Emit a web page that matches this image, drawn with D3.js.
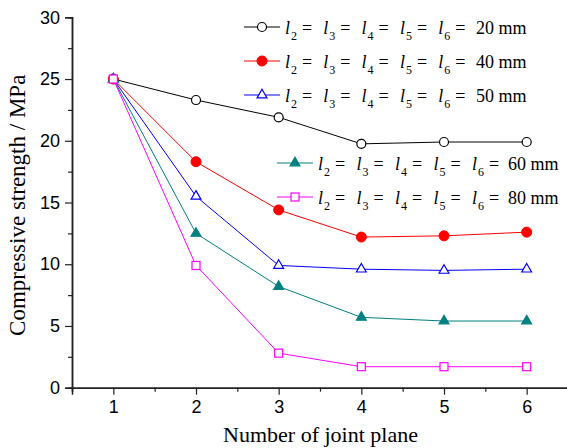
<!DOCTYPE html>
<html>
<head>
<meta charset="utf-8">
<script src="https://cdn.jsdelivr.net/npm/d3@7/dist/d3.min.js"></script>
<style>
html,body{margin:0;padding:0;background:#fff;}
svg{display:block;}
</style>
</head>
<body>
<svg id="chart" width="567" height="448"></svg>
<script>
// ---- data ----
const jointPlanes = [1, 2, 3, 4, 5, 6];
const spacings = ["20", "40", "50", "60", "80"];
const s20 = [25, 23.3, 21.9, 19.75, 19.9, 19.9];
const s40 = [25, 18.3, 14.4, 12.2, 12.3, 12.6];
const s50 = [25, 15.5, 9.9, 9.6, 9.5, 9.6];
const s60 = [25, 12.5, 8.2, 5.7, 5.4, 5.4];
const s80 = [25, 9.9, 2.8, 1.7, 1.7, 1.7];
const yTicks = [0, 5, 10, 15, 20, 25, 30];
const xTicks = [1, 2, 3, 4, 5, 6];
const yLabel = "Compressive strength / MPa";
const xLabel = "Number of joint plane";

const seriesValues = [s20, s40, s50, s60, s80];
const colors = ["#000000", "#ff0000", "#0000ff", "#008080", "#ff00ff"];
const symbols = ["circleOpen", "circleFilled", "triOpen", "triFilled", "squareOpen"];

const svg = d3.select("#chart");
const mLeft = 72, mRight = 568, mTop = 17.3, mBottom = 387.7;

const x = d3.scaleLinear().domain([0.5, 6.5]).range([mLeft, mRight]);
const y = d3.scaleLinear().domain([0, 30]).range([mBottom, mTop]);

const tickFont = "'Liberation Sans', Arial, sans-serif";
const serif = "'Liberation Serif', 'Times New Roman', serif";

// axes
const yAxis = d3.axisLeft(y).tickValues(yTicks).tickSize(7).tickPadding(5).tickFormat(d3.format("d"));
const yMinor = d3.axisLeft(y).tickValues(d3.range(2.5, 30, 5)).tickSize(4).tickFormat("");
const xAxis = d3.axisBottom(x).tickValues(xTicks).tickSize(7).tickPadding(6).tickFormat(d3.format("d"));
const xMinor = d3.axisBottom(x).tickValues(d3.range(0.5, 6.6, 1)).tickSize(4).tickFormat("");

function styleAxis(g){
  g.select(".domain").attr("stroke", "#222").attr("stroke-width", 1.5);
  g.selectAll(".tick line").attr("stroke", "#222").attr("stroke-width", 1.2);
  g.selectAll(".tick text").attr("font-family", tickFont).attr("font-size", 18).attr("fill", "#000");
}
svg.append("g").attr("transform", `translate(${mLeft},0)`).call(yMinor).call(styleAxis);
svg.append("g").attr("transform", `translate(${mLeft},0)`).call(yAxis).call(styleAxis);
svg.append("g").attr("transform", `translate(0,${mBottom})`).call(xMinor).call(styleAxis);
svg.append("g").attr("transform", `translate(0,${mBottom})`).call(xAxis).call(styleAxis);

// axis titles
svg.append("text")
  .attr("transform", `translate(25,205.3) rotate(-90)`)
  .attr("text-anchor", "middle")
  .attr("font-family", serif).attr("font-size", 23)
  .text(yLabel);
svg.append("text")
  .attr("x", 320.5).attr("y", 441.5)
  .attr("text-anchor", "middle")
  .attr("font-family", serif).attr("font-size", 22)
  .text(xLabel);

// markers
function drawMarker(g, type, color, cx, cy){
  if(type === "circleOpen"){
    g.append("circle").attr("cx", cx).attr("cy", cy).attr("r", 4.5)
      .attr("fill", "#fff").attr("stroke", color).attr("stroke-width", 1.2);
  } else if(type === "circleFilled"){
    g.append("circle").attr("cx", cx).attr("cy", cy).attr("r", 5)
      .attr("fill", color).attr("stroke", color).attr("stroke-width", 1);
  } else if(type === "triOpen" || type === "triFilled"){
    const p = d3.symbol().type(d3.symbolTriangle).size(42)();
    g.append("path").attr("d", p).attr("transform", `translate(${cx},${cy})`)
      .attr("fill", type === "triFilled" ? color : "#fff")
      .attr("stroke", color).attr("stroke-width", 1.2);
  } else if(type === "squareOpen"){
    g.append("rect").attr("x", cx-4).attr("y", cy-4).attr("width", 8).attr("height", 8)
      .attr("fill", "#fff").attr("stroke", color).attr("stroke-width", 1.2);
  }
}

const line = d3.line().x((d,i) => x(jointPlanes[i])).y(d => y(d));
seriesValues.forEach((vals, si) => {
  const g = svg.append("g");
  g.append("path").datum(vals).attr("d", line)
    .attr("fill", "none").attr("stroke", colors[si]).attr("stroke-width", 1);
  vals.forEach((v, i) => drawMarker(g, symbols[si], colors[si], x(jointPlanes[i]), y(v)));
});

// legends
const legendRows = [
  {lx1: 244, lx2: 280, mx: 262, tx: 285, y: 27, step: 38.3, vOff: 191},
  {lx1: 244, lx2: 280, mx: 262, tx: 285, y: 61, step: 38.3, vOff: 191},
  {lx1: 244, lx2: 280, mx: 262, tx: 285, y: 95, step: 38.3, vOff: 191},
  {lx1: 277, lx2: 313, mx: 295, tx: 318, y: 163, step: 38.5, vOff: 190},
  {lx1: 277, lx2: 313, mx: 295, tx: 318, y: 197, step: 38.5, vOff: 190}
];
legendRows.forEach((r, si) => {
  const g = svg.append("g");
  g.append("line").attr("x1", r.lx1).attr("x2", r.lx2).attr("y1", r.y).attr("y2", r.y)
    .attr("stroke", colors[si]).attr("stroke-width", 1);
  drawMarker(g, symbols[si], colors[si], r.mx, r.y);
  const base = r.y + 6.5;
  for(let k = 0; k < 5; k++){
    const gx = r.tx + k*r.step;
    g.append("text").attr("x", gx).attr("y", base)
      .attr("font-family", serif).attr("font-size", 18).attr("font-style", "italic").text("l");
    g.append("text").attr("x", gx + 6).attr("y", base + 6.5)
      .attr("font-family", serif).attr("font-size", 12).text(String(k+2));
    g.append("text").attr("x", gx + 17).attr("y", base)
      .attr("font-family", serif).attr("font-size", 18).text("=");
  }
  g.append("text").attr("x", r.tx + r.vOff).attr("y", base)
    .attr("font-family", serif).attr("font-size", 18).text(spacings[si] + " mm");
});
</script>
</body>
</html>
